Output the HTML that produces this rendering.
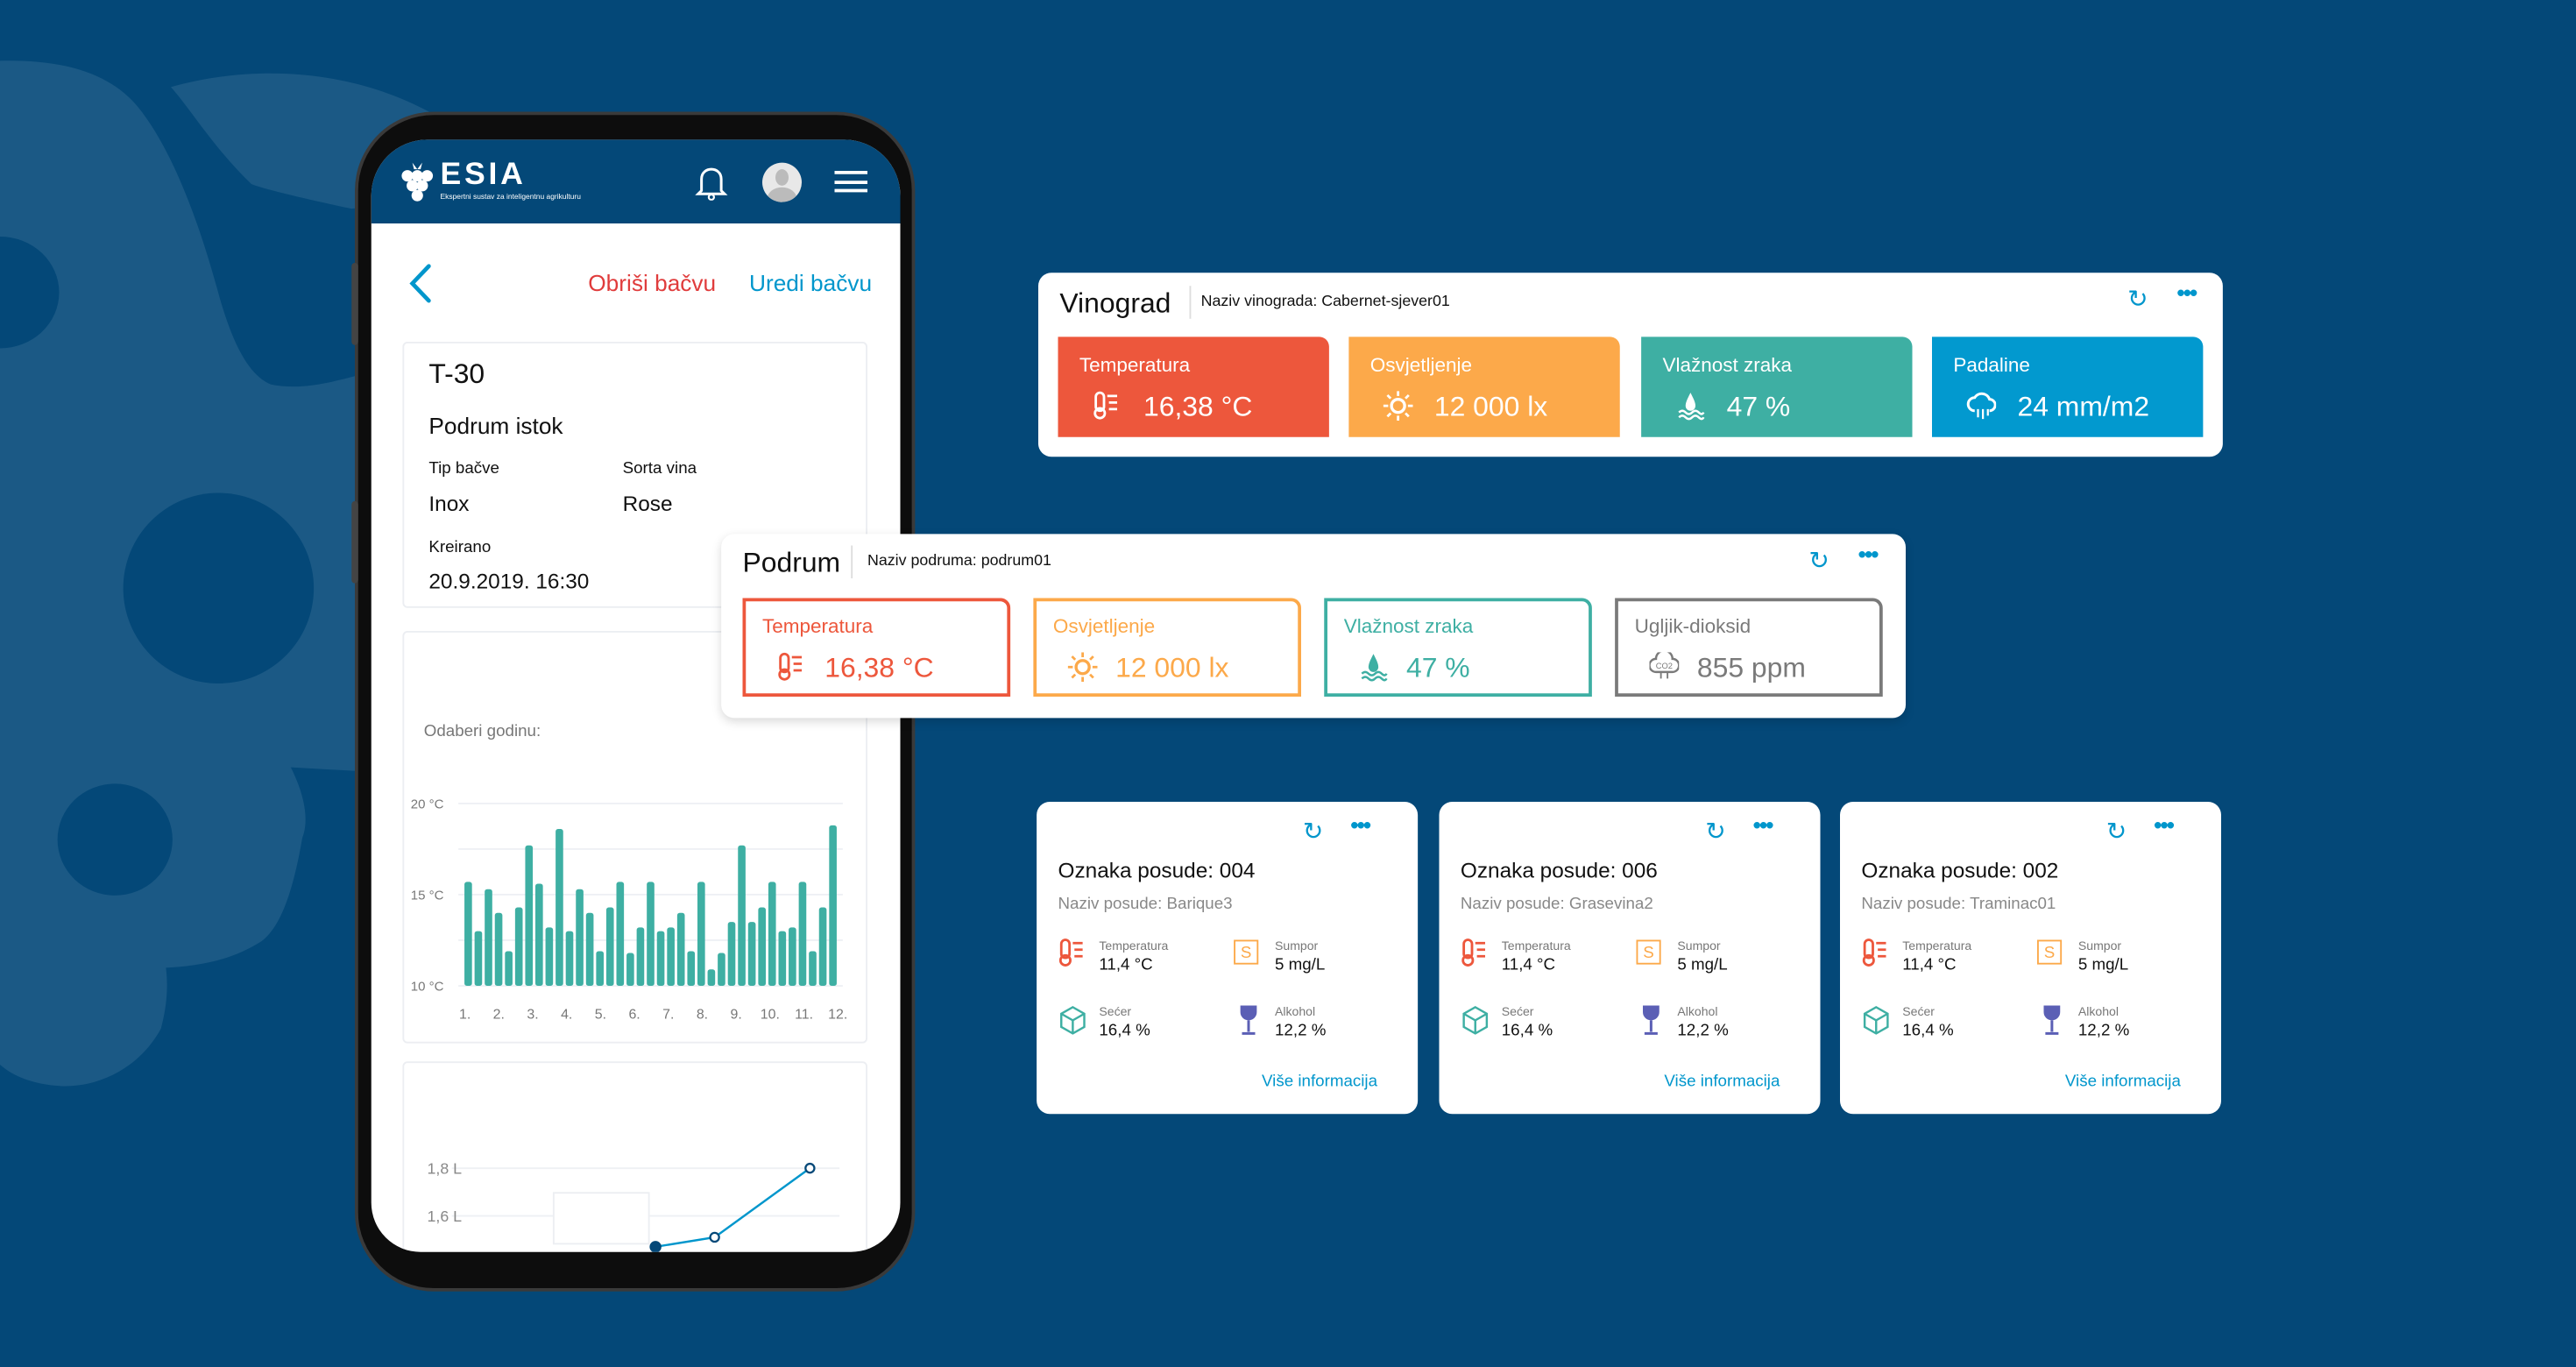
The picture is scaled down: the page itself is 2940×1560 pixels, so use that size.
<!DOCTYPE html>
<html><head><meta charset="utf-8"><style>
html,body{margin:0;padding:0;}
body{width:2940px;height:1560px;overflow:hidden;background:#044878;font-family:"Liberation Sans",sans-serif;}
#s{position:absolute;left:0;top:0;width:1568px;height:832px;transform:scale(1.875);transform-origin:0 0;}
.a{position:absolute;}
.t{position:absolute;white-space:nowrap;line-height:1;}
.card{position:absolute;background:#fff;border-radius:8px;}
.tile{position:absolute;border-radius:0 6px 0 0;}
</style></head><body>
<div id="s">
<svg class="a" style="left:0;top:0" width="420" height="832">
<path d="M0,37 C40,36 70,45 87,69 C110,100 125,150 132,175 C140,205 150,228 165,234 C185,238 205,232 230,225 L230,470 L177,467 C186,485 188,500 184,510 C178,545 170,565 159,573 C140,585 120,588 101,589 C103,605 100,618 98,626 C85,650 60,662 37,661 C20,660 8,655 0,648 Z" fill="#1b5985"/>
<path d="M104,53 C150,40 210,40 263,69 L263,125 C240,125 225,126 214,127 C190,122 160,115 153,112 C130,90 115,65 104,53Z" fill="#1b5985"/>
<ellipse cx="0" cy="178" rx="36" ry="34" fill="#044878"/>
<ellipse cx="133" cy="358" rx="58" ry="58" fill="#044878"/>
<ellipse cx="70" cy="511" rx="35" ry="34" fill="#044878"/>
</svg>

<!-- phone -->
<div class="a" style="left:218px;top:70px;width:337px;height:714px;background:#0d0d0d;border-radius:46px;box-shadow:0 0 0 2px #3a3a3a;"></div>
<div class="a" style="left:214px;top:160px;width:4px;height:50px;background:#444;border-radius:2px"></div>
<div class="a" style="left:214px;top:305px;width:4px;height:50px;background:#444;border-radius:2px"></div>
<div class="a" style="left:226px;top:85px;width:322px;height:677px;background:#fff;border-radius:34px 34px 30px 30px;overflow:hidden;">
 <div class="a" style="left:0;top:0;width:322px;height:51px;background:#044878"></div>
 <div class="a" style="left:19px;top:561px;width:283px;height:130px;border:1px solid #eceef2;box-sizing:border-box;border-radius:3px"></div>
</div>
<svg class="a" style="left:243px;top:97px" width="22" height="28"><g fill="#fff"><circle cx="5" cy="10" r="3.5"/><circle cx="11" cy="10" r="3.5"/><circle cx="17" cy="10" r="3.5"/><circle cx="8" cy="16" r="3.5"/><circle cx="14" cy="16" r="3.5"/><circle cx="11" cy="22" r="3.5"/><path d="M8,2 L11,6 L14,2 L13,6 L9,6Z"/></g></svg>
<div class="t" style="left:268px;top:97px;font-size:19px;color:#fff;font-weight:bold;letter-spacing:2px">ESIA</div>
<div class="t" style="left:268px;top:118px;font-size:4.5px;color:#fff">Ekspertni sustav za inteligentnu agrikulturu</div>
<svg class="a" style="left:423px;top:100px" width="20" height="22"><path d="M4,16 L4,9 C4,5 7,3 10,3 C13,3 16,5 16,9 L16,16 L18,18 L2,18 Z" fill="none" stroke="#fff" stroke-width="1.6"/><circle cx="10" cy="20" r="1.6" fill="none" stroke="#fff" stroke-width="1.2"/></svg>
<div class="a" style="left:464px;top:99px;width:24px;height:24px;border-radius:50%;background:#e8e8e8;overflow:hidden"><div class="a" style="left:8px;top:4px;width:8px;height:10px;border-radius:50%;background:#bbb"></div><div class="a" style="left:3px;top:15px;width:18px;height:14px;border-radius:50%;background:#bbb"></div></div>
<div class="a" style="left:508px;top:104px;width:20px;height:13px;border-top:2px solid #fff;border-bottom:2px solid #fff;box-sizing:border-box"><div class="a" style="left:0;top:3.5px;width:20px;height:2px;background:#fff"></div></div>

<svg class="a" style="left:248px;top:160px" width="16" height="25"><path d="M13,2 L3,12.5 L13,23" fill="none" stroke="#0096cc" stroke-width="2.5" stroke-linecap="round"/></svg>
<div class="t" style="left:358px;top:165px;font-size:14px;color:#e03c3c">Obriši bačvu</div>
<div class="t" style="left:456px;top:165px;font-size:14px;color:#0096cc">Uredi bačvu</div>

<div class="a" style="left:245px;top:208px;width:283px;height:162px;border:1px solid #eceef2;box-sizing:border-box;border-radius:3px"></div>
<div class="t" style="left:261px;top:219px;font-size:17px;color:#111">T-30</div>
<div class="t" style="left:261px;top:252px;font-size:14px;color:#111">Podrum istok</div>
<div class="t" style="left:261px;top:281px;font-size:10px;color:#111">Tip bačve</div>
<div class="t" style="left:261px;top:300px;font-size:13px;color:#111">Inox</div>
<div class="t" style="left:379px;top:281px;font-size:10px;color:#111">Sorta vina</div>
<div class="t" style="left:379px;top:300px;font-size:13px;color:#111">Rose</div>
<div class="t" style="left:261px;top:329px;font-size:10px;color:#111">Kreirano</div>
<div class="t" style="left:261px;top:347px;font-size:13px;color:#111">20.9.2019. 16:30</div>

<div class="a" style="left:245px;top:384px;width:283px;height:251px;border:1px solid #eceef2;box-sizing:border-box;border-radius:3px"></div>
<div class="t" style="left:258px;top:441px;font-size:10px;color:#777">Odaberi godinu:</div>
<svg id="bar" class="a" style="left:245px;top:470px" width="283" height="160"></svg>

<svg id="line" class="a" style="left:245px;top:690px" width="283" height="72"></svg>

<!-- Vinograd card -->
<div class="card" style="left:632px;top:166px;width:721px;height:112px"></div>
<div class="t" style="left:645px;top:176px;font-size:17px;color:#111">Vinograd</div>
<div class="a" style="left:724px;top:174px;width:1px;height:20px;background:#ddd"></div>
<div class="t" style="left:731px;top:179px;font-size:9.5px;color:#111">Naziv vinograda: Cabernet-sjever01</div>
<div class="t" style="left:1295px;top:175px;font-size:15px;color:#0096cc">↻</div>
<div class="t" style="left:1325px;top:171px;font-size:14px;color:#0096cc;font-weight:bold;letter-spacing:-1px">•••</div>
<div id="vtiles"></div>

<!-- Podrum card -->
<div class="card" style="left:439px;top:325px;width:721px;height:112px;box-shadow:0 2px 6px rgba(0,0,0,0.15)"></div>
<div class="t" style="left:452px;top:334px;font-size:17px;color:#111">Podrum</div>
<div class="a" style="left:518px;top:332px;width:1px;height:20px;background:#ddd"></div>
<div class="t" style="left:528px;top:337px;font-size:9.5px;color:#111">Naziv podruma: podrum01</div>
<div class="t" style="left:1101px;top:334px;font-size:15px;color:#0096cc">↻</div>
<div class="t" style="left:1131px;top:330px;font-size:14px;color:#0096cc;font-weight:bold;letter-spacing:-1px">•••</div>
<div id="ptiles"></div>

<div id="vessels"></div>
</div>
<script>
// Bar chart data
const barValues=[15.7,13.0,15.3,14.0,11.9,14.3,17.7,15.6,13.2,18.6,13.0,15.3,14.0,11.9,14.3,15.7,11.8,13.2,15.7,13.0,13.2,14.0,11.9,15.7,10.9,11.8,13.5,17.7,13.5,14.3,15.7,13.0,13.2,15.7,11.9,14.3,18.8];
const barYTicks=[20,17.5,15,12.5,10];
const barYLabels=["20 °C","","15 °C","","10 °C"];
const monthLabels=["1.","2.","3.","4.","5.","6.","7.","8.","9.","10.","11.","12."];
// Line chart data
const lineValues=[1.47,1.51,1.8];
const lineYTicks=[1.8,1.6];
const lineYLabels=["1,8 L","1,6 L"];

const NS="http://www.w3.org/2000/svg";
function mk(p,tag,at){const e=document.createElementNS(NS,tag);for(const k in at)e.setAttribute(k,at[k]);p.appendChild(e);return e;}
(function(){
 const svg=document.getElementById('bar');
 const y=v=>130-(v-10)*11.1;
 const x0=40,x1=262;
 barYTicks.forEach((t,i)=>{
  const l=mk(svg,'line',{x1:34,x2:268,y1:y(t),y2:y(t),stroke:'#eef0f4','stroke-width':1});
  
  if(barYLabels[i]){const tx=mk(svg,'text',{x:5,y:y(t)+3,'font-size':8,fill:'#777','font-family':'Liberation Sans'});tx.textContent=barYLabels[i];
  }
 });
 const step=(x1-x0)/(barValues.length-1);
 barValues.forEach((v,i)=>{
  const cx=x0+i*step;
  const r=mk(svg,'rect',{x:cx-2.3,y:y(v),width:4.6,height:y(10)-y(v),rx:1.5,fill:'#3eafa3'});
  
 });
 monthLabels.forEach((m,i)=>{
  const tx=mk(svg,'text',{x:38+i*((265-38)/11),y:150,'font-size':8.5,fill:'#777','text-anchor':'middle','font-family':'Liberation Sans'});
  tx.textContent=m;
 });
})();
(function(){
 const svg=document.getElementById('line');
 const y=v=>21-(v-1.8)*145;
 lineYTicks.forEach((t,i)=>{
  const l=mk(svg,'line',{x1:30,x2:266,y1:y(t),y2:y(t),stroke:'#eef0f4','stroke-width':1});
  
  const tx=mk(svg,'text',{x:15,y:y(t)+3.5,'font-size':9.5,fill:'#888','font-family':'Liberation Sans'});tx.textContent=lineYLabels[i];
  
 });
 const box=mk(svg,'rect',{x:92,y:36,width:58,height:31,fill:'#fff',stroke:'#eceef2','stroke-width':1});
 
 const xs=[154,190,248];
 const pts=lineValues.map((v,i)=>xs[i]+','+y(v)).join(' ');
 const pl=mk(svg,'polyline',{points:pts,fill:'none',stroke:'#0096cc','stroke-width':1.3});
 
 lineValues.forEach((v,i)=>{
  const c=mk(svg,'circle',{cx:xs[i],cy:y(v),r:i==0?3:2.7,fill:i==0?'#044878':'#fff',stroke:'#044878','stroke-width':1.2});
  
 });
})();
const icons={
 temp:c=>`<svg width="18" height="18" viewBox="0 0 18 18"><rect x="2" y="1" width="5" height="11" rx="2.5" fill="none" stroke="${c}" stroke-width="1.5"/><circle cx="4.5" cy="13.5" r="3" fill="none" stroke="${c}" stroke-width="1.5"/><path d="M9,3h6M10,7h5M10,11h5" stroke="${c}" stroke-width="1.5"/></svg>`,
 sun:c=>`<svg width="18" height="18" viewBox="0 0 18 18"><circle cx="9" cy="9" r="4" fill="none" stroke="${c}" stroke-width="1.8"/><path d="M9,0v3M9,15v3M0,9h3M15,9h3M2.5,2.5l2,2M13.5,13.5l2,2M2.5,15.5l2-2M13.5,4.5l2-2" stroke="${c}" stroke-width="1.5"/></svg>`,
 drop:c=>`<svg width="18" height="18" viewBox="0 0 18 18"><path d="M9,1 C11,5 12,7 12,9 A3,3 0 0 1 6,9 C6,7 7,5 9,1Z" fill="${c}"/><path d="M2,13 q2,-2 4,0 q2,2 4,0 q2,-2 4,0 q2,2 3,0 M2,16 q2,-2 4,0 q2,2 4,0 q2,-2 4,0 q2,2 3,0" fill="none" stroke="${c}" stroke-width="1.3"/></svg>`,
 cloud:c=>`<svg width="18" height="18" viewBox="0 0 18 18"><path d="M5,12 A4,4 0 0 1 5,4 A5,5 0 0 1 14,5 A3.5,3.5 0 0 1 14,12" fill="none" stroke="${c}" stroke-width="1.6"/><path d="M7,11v5M10,11v6M13,11v4" stroke="${c}" stroke-width="1.2"/></svg>`,
 co2:c=>`<svg width="18" height="18" viewBox="0 0 18 18"><path d="M4,12 A4,4 0 0 1 4,4 A5,5 0 0 1 14,4 A4,4 0 0 1 14,12Z" fill="none" stroke="${c}" stroke-width="1.3"/><text x="9" y="10" font-size="5" text-anchor="middle" fill="${c}" font-family="Liberation Sans">CO2</text><path d="M7,12v4M11,12v4" stroke="${c}" stroke-width="1"/></svg>`
};
const vt=[["Temperatura","16,38 °C","#ed573c","temp"],["Osvjetljenje","12 000 lx","#fca94a","sun"],["Vlažnost zraka","47 %","#3eafa3","drop"],["Padaline","24 mm/m2","#0299cf","cloud"]];
const vx=[644,821,999,1176];
let h='';
vt.forEach((d,i)=>{
 h+=`<div class="tile" style="left:${vx[i]}px;top:205px;width:165px;height:61px;background:${d[2]}"></div>
 <div class="t" style="left:${vx[i]+13}px;top:216px;font-size:12px;color:#fff">${d[0]}</div>
 <div class="a" style="left:${vx[i]+21}px;top:238px">${icons[d[3]]('#fff')}</div>
 <div class="t" style="left:${vx[i]+52}px;top:239px;font-size:17px;color:#fff">${d[1]}</div>`;
});
document.getElementById('vtiles').outerHTML=h;
const pt=[["Temperatura","16,38 °C","#ed573c","temp"],["Osvjetljenje","12 000 lx","#fca94a","sun"],["Vlažnost zraka","47 %","#3eafa3","drop"],["Ugljik-dioksid","855 ppm","#7a7a7a","co2"]];
const px=[452,629,806,983];
h='';
pt.forEach((d,i)=>{
 h+=`<div class="tile" style="left:${px[i]}px;top:364px;width:163px;height:60px;border:2px solid ${d[2]};box-sizing:border-box"></div>
 <div class="t" style="left:${px[i]+12}px;top:375px;font-size:12px;color:${d[2]}">${d[0]}</div>
 <div class="a" style="left:${px[i]+21}px;top:397px">${icons[d[3]](d[2])}</div>
 <div class="t" style="left:${px[i]+50}px;top:398px;font-size:17px;color:${d[2]}">${d[1]}</div>`;
});
document.getElementById('ptiles').outerHTML=h;
const vs=[["004","Barique3"],["006","Grasevina2"],["002","Traminac01"]];
const vsx=[631,876,1120];
h='';
vs.forEach((d,i)=>{
 const x=vsx[i];
 h+=`<div class="card" style="left:${x}px;top:488px;width:232px;height:190px"></div>
 <div class="t" style="left:${x+162}px;top:499px;font-size:15px;color:#0096cc">↻</div>
 <div class="t" style="left:${x+191}px;top:495px;font-size:14px;color:#0096cc;font-weight:bold;letter-spacing:-1px">•••</div>
 <div class="t" style="left:${x+13}px;top:523px;font-size:13px;color:#111">Oznaka posude: ${d[0]}</div>
 <div class="t" style="left:${x+13}px;top:546px;font-size:10px;color:#888">Naziv posude: ${d[1]}</div>
 <div class="a" style="left:${x+13}px;top:571px">${icons.temp('#ed573c')}</div>
 <div class="t" style="left:${x+38}px;top:572px;font-size:7.5px;color:#777">Temperatura</div>
 <div class="t" style="left:${x+38}px;top:583px;font-size:10px;color:#111">11,4 °C</div>
 <div class="a" style="left:${x+120}px;top:572px;width:15px;height:15px;border:1.3px solid #fca94a;box-sizing:border-box;color:#fca94a;font-size:10px;text-align:center;line-height:15px">S</div>
 <div class="t" style="left:${x+145}px;top:572px;font-size:7.5px;color:#777">Sumpor</div>
 <div class="t" style="left:${x+145}px;top:583px;font-size:10px;color:#111">5 mg/L</div>
 <svg class="a" style="left:${x+13}px;top:612px" width="18" height="18"><path d="M9,1 L16,5 L16,13 L9,17 L2,13 L2,5Z M2,5 L9,9 L16,5 M9,9 L9,17" fill="none" stroke="#3eafa3" stroke-width="1.3"/></svg>
 <div class="t" style="left:${x+38}px;top:612px;font-size:7.5px;color:#777">Sećer</div>
 <div class="t" style="left:${x+38}px;top:623px;font-size:10px;color:#111">16,4 %</div>
 <svg class="a" style="left:${x+123}px;top:611px" width="12" height="20"><path d="M1,1 h10 v4 a5,5 0 0 1 -10,0Z" fill="#5b5fb5"/><path d="M6,10 v7 M2,18 h8" stroke="#5b5fb5" stroke-width="1.6"/></svg>
 <div class="t" style="left:${x+145}px;top:612px;font-size:7.5px;color:#777">Alkohol</div>
 <div class="t" style="left:${x+145}px;top:623px;font-size:10px;color:#111">12,2 %</div>
 <div class="t" style="left:${x+137}px;top:654px;font-size:10px;color:#0096cc">Više informacija</div>`;
});
document.getElementById('vessels').outerHTML=h;
</script>
</body></html>
